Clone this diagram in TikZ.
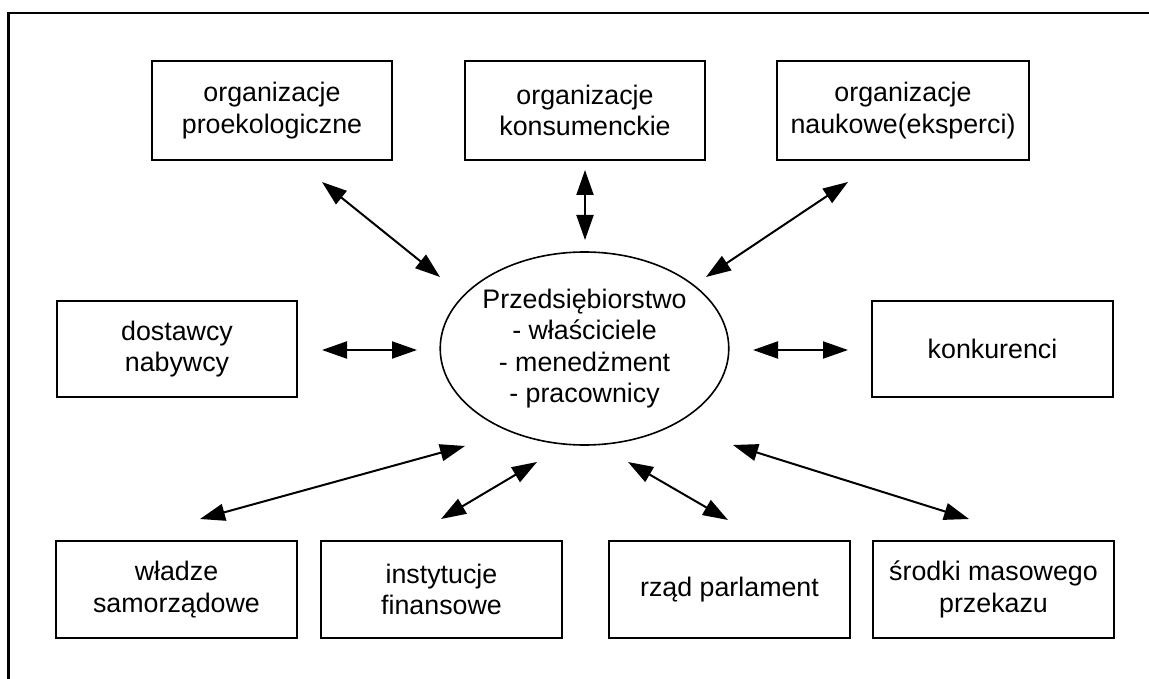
\documentclass[tikz,border=0pt]{standalone}
\usepackage{fontspec}
\setmainfont{Liberation Sans}
\usetikzlibrary{arrows.meta,shapes.geometric}
\begin{document}
\begin{tikzpicture}[x=1pt,y=-1pt,
  txt/.style={align=center,font=\fontsize{26.8}{31.5}\selectfont},
  box/.style={txt,draw,line width=2pt,inner sep=0pt,minimum height=97pt},
  core/.style={txt,draw,ellipse,line width=1.6pt,inner sep=0pt,minimum width=287pt,minimum height=193pt},
  link/.style={line width=2pt,{Triangle[length=25pt,width=17pt]}-{Triangle[length=25pt,width=17pt]}}]
\useasboundingbox (0,0) rectangle (1149,679);
% open frame: left and top edges only
\draw[line width=2.5pt] (8.5,679) -- (8.5,13) -- (1149,13);

% central enterprise
\node[core] (firm) at (584.5,348.5) {Przedsiębiorstwo\\- właściciele\\- menedżment\\- pracownicy};

% top row
\node[box,minimum width=240pt,minimum height=99pt] (eko)  at (272,110.5) {organizacje\\proekologiczne};
\node[box,minimum width=240pt,minimum height=99pt] (kons) at (585,110.5) {organizacje\\konsumenckie};
\node[box,minimum width=252pt,minimum height=99pt] (nauk) at (903,110.5) {organizacje\\naukowe(eksperci)};

% middle row
\node[box,minimum width=240pt,minimum height=96pt] (dost) at (177,349) {dostawcy\\nabywcy};
\node[box,minimum width=241pt,minimum height=96pt] (konk) at (992.5,349) {konkurenci};

% bottom row
\node[box,minimum width=241pt] (wlad) at (176.5,589.5) {władze\\samorządowe};
\node[box,minimum width=241pt] (inst) at (441.5,589.5) {instytucje\\finansowe};
\node[box,minimum width=241pt] (rzad) at (729.5,589.5) {rząd parlament};
\node[box,minimum width=241pt] (srod) at (993.5,589.5) {środki masowego\\przekazu};

% connector end points
\coordinate (ekoA) at (322,182);  \coordinate (ekoB) at (440,277);
\coordinate (konsA) at (585,170); \coordinate (konsB) at (585,240);
\coordinate (naukA) at (848,182); \coordinate (naukB) at (706,277);
\coordinate (dostA) at (322,350); \coordinate (dostB) at (417,350);
\coordinate (konkA) at (848,350); \coordinate (konkB) at (753,350);
\coordinate (wladA) at (200,519); \coordinate (wladB) at (465,446);
\coordinate (instA) at (441,519); \coordinate (instB) at (537,462);
\coordinate (rzadA) at (728,520); \coordinate (rzadB) at (628,462);
\coordinate (srodA) at (969,519); \coordinate (srodB) at (733,445);

% two-way relations
\draw[link] (ekoA) -- (ekoB);
\draw[link] (konsA) -- (konsB);
\draw[link] (naukA) -- (naukB);
\draw[link] (dostA) -- (dostB);
\draw[link] (konkA) -- (konkB);
\draw[link] (wladA) -- (wladB);
\draw[link] (instA) -- (instB);
\draw[link] (rzadA) -- (rzadB);
\draw[link] (srodA) -- (srodB);
\end{tikzpicture}
\end{document}
